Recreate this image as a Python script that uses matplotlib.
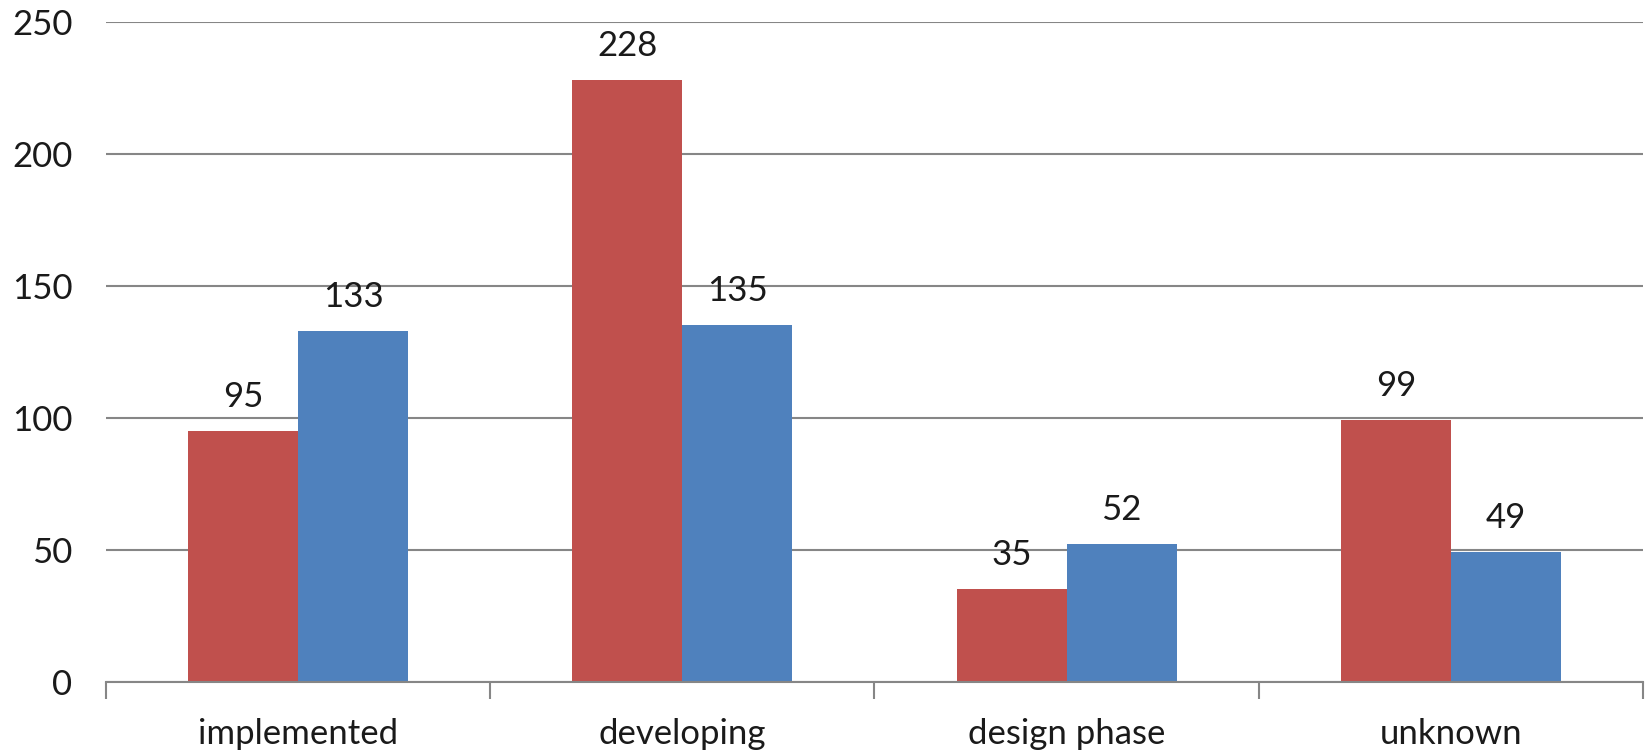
import numpy as np
import matplotlib
matplotlib.use("Agg")
import matplotlib.pyplot as plt

categories = ["implemented", "developing", "design phase", "unknown"]
series_red = [95, 228, 35, 99]
series_blue = [133, 135, 52, 49]
yticks = [0, 50, 100, 150, 200, 250]

RED = "#C0504D"
BLUE = "#4F81BD"
GRID = "#868686"
FS = 25

plt.rcParams["font.family"] = ["Lato", "DejaVu Sans"]

fig = plt.figure(figsize=(16.45, 7.53), dpi=100)
ax = fig.add_axes([0.0644, 0.0947, 0.9344, 0.8761])

x = np.arange(len(categories))
w = 0.286
b1 = ax.bar(x - w / 2, series_red, w, color=RED, zorder=3)
b2 = ax.bar(x + w / 2, series_blue, w, color=BLUE, zorder=3)

for bars, vals in [(b1, series_red), (b2, series_blue)]:
    for rect, v in zip(bars, vals):
        ax.annotate(str(v), xy=(rect.get_x() + rect.get_width() / 2, v),
                    xytext=(0, 13), textcoords="offset points",
                    ha="center", va="bottom", fontsize=FS, color="#1a1a1a")

ax.set_xlim(-0.5, len(categories) - 0.5)
ax.set_ylim(0, 250)
ax.set_yticks(yticks)
ax.yaxis.grid(True, color=GRID, lw=1.5, zorder=0)
ax.tick_params(axis="y", length=0, pad=24, labelsize=FS, labelcolor="#1a1a1a")

# category boundaries carry the ticks, labels sit in the middle
ax.set_xticks(np.arange(-0.5, len(categories)), minor=False)
ax.set_xticklabels([])
ax.set_xticks(x, minor=True)
ax.set_xticklabels(categories, minor=True)
ax.tick_params(axis="x", which="major", length=12, width=1.5, color=GRID)
ax.tick_params(axis="x", which="minor", length=0, pad=26, labelsize=FS,
               labelcolor="#1a1a1a")

for s in ["top", "right", "left"]:
    ax.spines[s].set_visible(False)
ax.spines["bottom"].set_color(GRID)
ax.spines["bottom"].set_linewidth(1.5)
ax.spines["bottom"].set_zorder(4)

fig.savefig("out.png", dpi=100)
